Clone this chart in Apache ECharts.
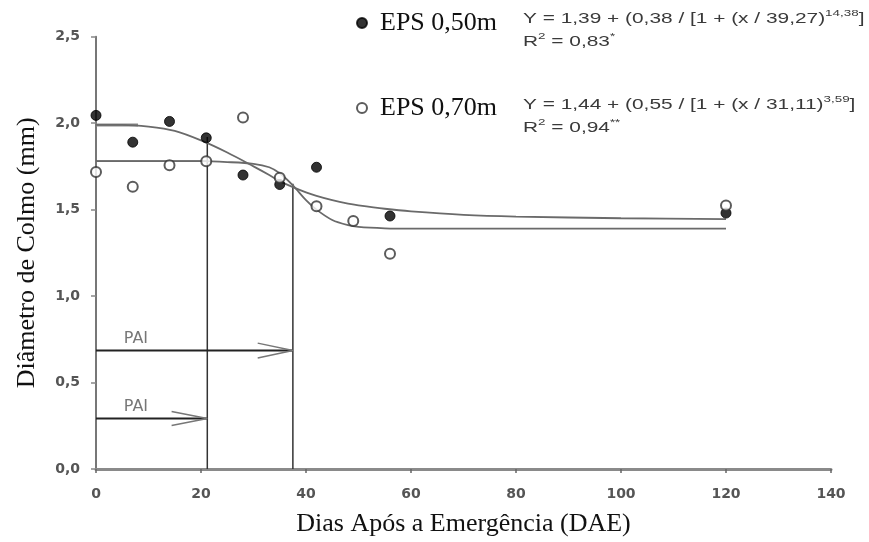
<!DOCTYPE html>
<html>
<head>
<meta charset="utf-8">
<script src="https://cdn.jsdelivr.net/npm/echarts@6/dist/echarts.min.js"></script>
<style>
html,body{margin:0;padding:0;background:#fff;}
#c{width:869px;height:542px;}
</style>
</head>
<body>
<div id="c"></div>
<script>
// ---- data ----
const days050 = [0, 7, 14, 21, 28, 35, 42, 56, 120];
const diam050 = [2.045, 1.89, 2.01, 1.915, 1.70, 1.645, 1.745, 1.463, 1.48];
const days070 = [0, 7, 14, 21, 28, 35, 42, 49, 56, 120];
const diam070 = [1.717, 1.632, 1.757, 1.78, 2.033, 1.684, 1.52, 1.434, 1.245, 1.524];

// fitted curves as drawn (sampled by eye)
const curveX = [0, 5, 10, 15, 20, 25, 30, 33, 35, 37.5, 40, 42, 45, 48, 50, 55, 60, 70, 80, 100, 120];
const fitUpper = [1.99, 1.99, 1.98, 1.955, 1.90, 1.83, 1.75, 1.70, 1.665, 1.63, 1.60, 1.58, 1.555, 1.535, 1.525, 1.505, 1.49, 1.47, 1.46, 1.45, 1.445];
const fitLower = [1.78, 1.78, 1.78, 1.78, 1.78, 1.775, 1.765, 1.745, 1.71, 1.64, 1.555, 1.50, 1.44, 1.41, 1.40, 1.392, 1.39, 1.39, 1.39, 1.39, 1.39];

// reference (PAI) guides
const guideV1 = [[21.2, 0], [21.2, 1.92]];
const guideV2 = [[37.5, 0], [37.5, 1.65]];
const guideH178 = [[0, 1.78], [21.2, 1.78]];
const guideH199 = [[0, 1.99], [8, 1.99]];
const paiArrow1 = [[0, 0.685], [37.5, 0.685]];
const paiHead1 = [[30.8, 0.728], [37.5, 0.685], [30.8, 0.642]];
const paiArrow2 = [[0, 0.292], [21.2, 0.292]];
const paiHead2 = [[14.4, 0.333], [21.2, 0.292], [14.4, 0.251]];
const paiLabels = [[7.6, 0.753], [7.6, 0.361]];

const xTicks = {min: 0, max: 140, interval: 20};
const yTicks = {min: 0, max: 2.5, interval: 0.5};

const zip = (a, b) => a.map((v, i) => [v, b[i]]);

const serif = "'Liberation Serif','Times New Roman',serif";
const sans = "'Liberation Sans',Arial,sans-serif";
const wide = "'DejaVu Sans',Verdana,sans-serif";

const chart = echarts.init(document.getElementById('c'), null, {renderer: 'canvas'});

function guide(data, color, width, z) {
  return {type: 'line', data: data, symbol: 'none', silent: true, z: z || 2,
    lineStyle: {color: color, width: width}, legendHoverLink: false};
}

const eqRich = {
  a: {fontSize: 14, fontFamily: sans, fill: '#3a3a3a', lineHeight: 17, verticalAlign: 'bottom'},
  s: {fontSize: 9, fontFamily: sans, fill: '#3a3a3a', lineHeight: 17, verticalAlign: 'top'}
};

const option = {
  animation: false,
  backgroundColor: '#fff',
  grid: {left: 96, right: 38, top: 36.7, bottom: 71.3},
  xAxis: {
    type: 'value', min: xTicks.min, max: xTicks.max, interval: xTicks.interval,
    name: 'Dias Após a Emergência (DAE)', nameLocation: 'middle', nameGap: 42,
    nameTextStyle: {fontFamily: serif, fontSize: 26, color: '#111'},
    axisLine: {show: true, onZero: false, lineStyle: {color: '#8a8a8a', width: 3}},
    axisTick: {show: true, length: 4, lineStyle: {color: '#666', width: 1.5}},
    axisLabel: {fontFamily: wide, fontSize: 14, fontWeight: 'bold', color: '#555', margin: 18},
    splitLine: {show: false}
  },
  yAxis: {
    type: 'value', min: yTicks.min, max: yTicks.max, interval: yTicks.interval,
    name: 'Diâmetro de Colmo (mm)', nameLocation: 'middle', nameGap: 56, nameRotate: 90,
    nameTextStyle: {fontFamily: serif, fontSize: 26, color: '#111'},
    axisLine: {show: true, onZero: false, lineStyle: {color: '#777', width: 2}},
    axisTick: {show: true, length: 5, lineStyle: {color: '#888', width: 1.5}},
    axisLabel: {fontFamily: wide, fontSize: 14, fontWeight: 'bold', color: '#555', margin: 16,
      formatter: v => v.toFixed(1).replace('.', ',')},
    splitLine: {show: false}
  },
  legend: [
    {data: ['EPS 0,50m'], left: 351, top: 5, itemWidth: 10, itemHeight: 10, itemGap: 0,
      textStyle: {fontFamily: serif, fontSize: 26, color: '#111', padding: [0, 0, 0, 8]}},
    {data: ['EPS 0,70m'], left: 351, top: 90, itemWidth: 10, itemHeight: 10, itemGap: 0,
      textStyle: {fontFamily: serif, fontSize: 26, color: '#111', padding: [0, 0, 0, 8]}}
  ],
  graphic: [
    {type: 'text', x: 523, y: 9, scaleX: 1.49, silent: true,
      style: {text: '{a|Y = 1,39 + (0,38 / [1 + (x / 39,27)}{s|14,38}{a|]}', rich: eqRich}},
    {type: 'text', x: 523, y: 32, scaleX: 1.49, silent: true,
      style: {text: '{a|R}{s|2}{a| = 0,83}{s|*}', rich: eqRich}},
    {type: 'text', x: 523, y: 95, scaleX: 1.49, silent: true,
      style: {text: '{a|Y = 1,44 + (0,55 / [1 + (x / 31,11)}{s|3,59}{a|]}', rich: eqRich}},
    {type: 'text', x: 523, y: 118, scaleX: 1.49, silent: true,
      style: {text: '{a|R}{s|2}{a| = 0,94}{s|**}', rich: eqRich}}
  ],
  series: [
    guide(guideV1, '#333', 1.5),
    guide(guideV2, '#333', 1.5),
    guide(guideH178, '#444', 1.5),
    guide(guideH199, '#8a8a8a', 3),
    guide(paiArrow1, '#222', 2),
    guide(paiHead1, '#777', 1.5),
    guide(paiArrow2, '#222', 2),
    guide(paiHead2, '#777', 1.5),
    {type: 'scatter', data: paiLabels, symbolSize: 0, silent: true,
      label: {show: true, position: 'inside', formatter: 'PAI', fontFamily: wide, fontSize: 16, color: '#555'}},
    {type: 'line', data: zip(curveX, fitUpper), symbol: 'none', smooth: 0.3, silent: true,
      lineStyle: {color: '#6a6a6a', width: 1.8}, z: 3},
    {type: 'line', data: zip(curveX, fitLower), symbol: 'none', smooth: 0.3, silent: true,
      lineStyle: {color: '#6a6a6a', width: 1.8}, z: 3},
    {name: 'EPS 0,50m', type: 'scatter', data: zip(days050, diam050), symbol: 'circle', symbolSize: 10, z: 5,
      itemStyle: {color: '#000', borderColor: '#000', borderWidth: 1}},
    {name: 'EPS 0,70m', type: 'scatter', data: zip(days070, diam070), symbol: 'circle', symbolSize: 10, z: 5,
      itemStyle: {color: '#fff', borderColor: '#333', borderWidth: 2}}
  ]
};
chart.setOption(option);
</script>
</body>
</html>
